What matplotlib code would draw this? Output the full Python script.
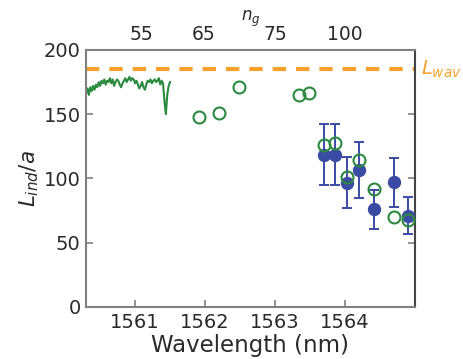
import numpy as np
import matplotlib
matplotlib.use("Agg")
import matplotlib.pyplot as plt

# Continuous (green line) data
line_wl = np.round(np.arange(1560.30, 1561.501, 0.02), 2)
line_val = [166, 170, 165, 171, 168, 172, 169, 173, 171, 175, 172, 176, 174, 177, 173,
            176, 175, 178, 174, 177, 172, 175, 177, 176, 173, 171, 174, 176, 178, 175,
            177, 179, 176, 178, 177, 174, 176, 173, 170, 172, 175, 171, 169, 173, 176,
            175, 177, 174, 176, 177, 175, 176, 178, 173, 176, 174, 160, 150, 165, 172, 175]

# Open green circles
open_wl = [1561.91, 1562.20, 1562.49, 1563.35, 1563.48, 1563.70, 1563.86, 1564.03,
           1564.20, 1564.41, 1564.70, 1564.90]
open_val = [147.6, 151.2, 171.0, 164.7, 166.3, 125.8, 127.9, 100.9, 114.4, 91.8, 69.8, 67.7]

# Filled blue points with error bars
fill_wl = [1563.70, 1563.86, 1564.03, 1564.20, 1564.41, 1564.70, 1564.90]
fill_val = [118.5, 118.5, 96.8, 106.6, 76.0, 97.0, 71.0]
fill_err = [24, 24, 19.5, 21.5, 15, 19, 14.3]

L_wav = 185

x_ticks = [1561, 1562, 1563, 1564]
y_ticks = [0, 50, 100, 150, 200]
ng_pos = [1561.096, 1561.986, 1563.0, 1564.0]
ng_labels = ["55", "65", "75", "100"]

green = "#2b8a3e"
blue = "#3a4ba3"
orange = "#f7a12c"
spine = "#808080"
txt = "#2a2a2a"

fig = plt.figure(figsize=(4.63, 3.59), dpi=100)
ax = fig.add_axes([0.186, 0.145, 0.710, 0.716])

ax.axhline(L_wav, color=orange, lw=3, dashes=(3.2, 2.4))
ax.plot(line_wl, line_val, color=green, lw=1.5)
ax.errorbar(fill_wl, fill_val, yerr=fill_err, fmt='o', color=blue, ms=8.6,
            capsize=3.6, elinewidth=1.4, capthick=1.4, zorder=3)
ax.plot(open_wl, open_val, 'o', mfc='none', mec=green, mew=1.5, ms=8.6, zorder=4)

ax.set_xlim(1560.3, 1565.0)
ax.set_ylim(0, 200)
ax.set_xticks(x_ticks)
ax.set_xticklabels([str(t) for t in x_ticks])
ax.set_yticks(y_ticks)
ax.tick_params(axis='both', direction='in', length=5, width=1.2, colors=spine,
               labelcolor=txt, labelsize=14, right=True, pad=4)
ax.set_xlabel("Wavelength (nm)", fontsize=16.5, color=txt, labelpad=2)
ax.set_ylabel(r"$L_{ind}/a$", fontsize=15.5, color=txt, labelpad=2)
for s in ax.spines.values():
    s.set_color(spine)
    s.set_linewidth(1.5)
ax.spines['right'].set_color('#444444')

ax2 = ax.twiny()
ax2.set_xlim(ax.get_xlim())
ax2.set_xticks(ng_pos)
ax2.set_xticklabels(ng_labels)
ax2.tick_params(axis='x', length=0, labelsize=13.5, labelcolor=txt, pad=4)
ax2.set_xlabel(r"$n_g$", fontsize=12, color=txt, labelpad=3)
for s in ax2.spines.values():
    s.set_visible(False)

ax.text(1.018, L_wav, r"$L_{wav}$", transform=ax.get_yaxis_transform(),
        color=orange, fontsize=14, va='center', ha='left')

fig.savefig("out.png", dpi=100)
